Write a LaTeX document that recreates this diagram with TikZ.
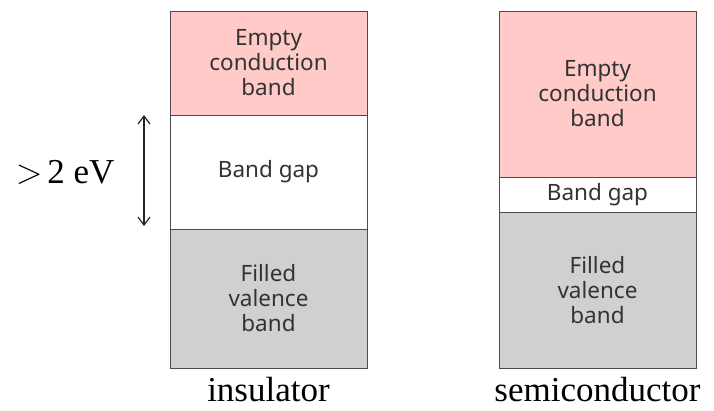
\RequirePackage{fix-cm}
\documentclass[tikz,border=0pt]{standalone}
\usepackage{fontspec}
\setmainfont{Liberation Serif}
\newfontfamily\bandfont{Noto Sans}
\usetikzlibrary{positioning,arrows.meta}

\definecolor{condpink}{RGB}{255,202,200}
\definecolor{valgray}{RGB}{208,208,208}

\tikzset{
  band/.style={draw=black!70, line width=0.9pt, minimum width=197pt,
    inner sep=0pt, outer sep=0pt, align=center, text=black!80,
    font=\bandfont\fontsize{22.5}{25}\selectfont},
  caption/.style={font=\fontsize{35}{40}\selectfont}
}

\begin{document}
\begin{tikzpicture}[x=1pt,y=-1pt]
    \useasboundingbox (0,0) rectangle (714,410);

    % Insulator: stacked bands with a wide gap
    \node[band, fill=condpink, minimum height=104pt, below right] (icond) at (170,11) {Empty\\conduction\\band};
    \node[band, fill=white, minimum height=114pt, below=0pt of icond] (igap) {Band gap};
    \node[band, fill=valgray, minimum height=139pt, below=0pt of igap] (ival) {Filled\\valence\\band};
    \node[caption, below=6pt of ival] (ilabel) {insulator};

    % Semiconductor: same bands, narrow gap
    \node[band, fill=condpink, minimum height=166pt, below right] (scond) at (499,11) {Empty\\conduction\\band};
    \node[band, fill=white, minimum height=35pt, below=0pt of scond] (sgap) {Band gap};
    \node[band, fill=valgray, minimum height=156pt, below=0pt of sgap] (sval) {Filled\\valence\\band};
    \node[caption, below=6pt of sval] (slabel) {semiconductor};

    % Gap width marker on the insulator
    \coordinate (gaptop) at ([xshift=-26pt]igap.north west);
    \coordinate (gapbot) at ([xshift=-26pt,yshift=3pt]igap.south west);
    \draw[{Straight Barb[length=8pt,width=12pt]}-{Straight Barb[length=8pt,width=12pt]}, line width=1.2pt, black!85] (gaptop) -- (gapbot);
    \node[caption, left=52pt of igap.west] (gapval) {$>$\kern5pt2 eV};
\end{tikzpicture}
\end{document}
